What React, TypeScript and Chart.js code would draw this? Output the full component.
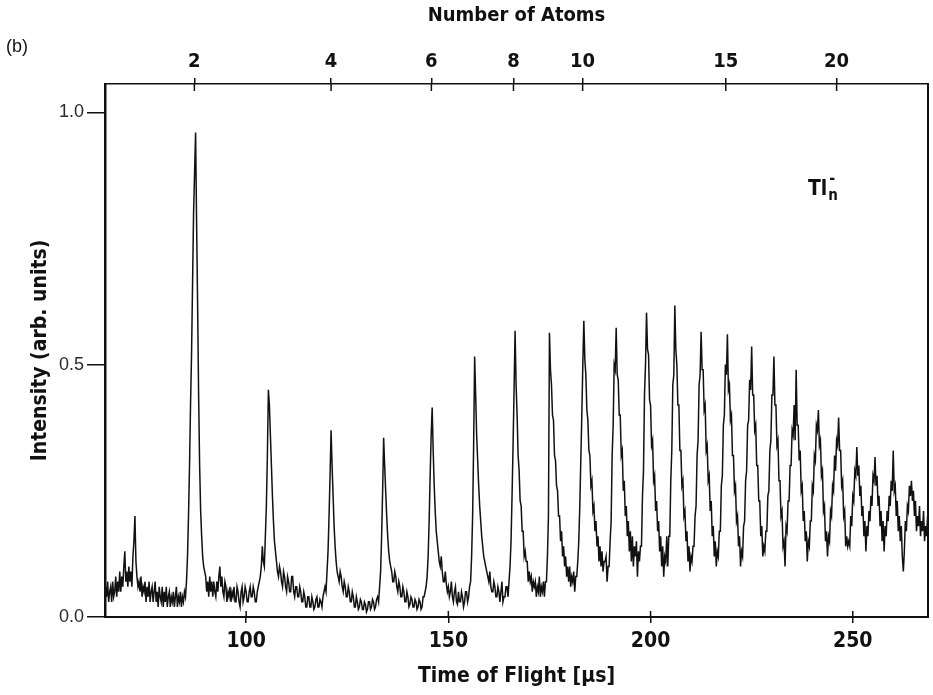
import React, { useEffect, useRef } from "react";
import { Chart, registerables } from "chart.js";

Chart.register(...registerables);

// ---- data: time of flight (µs) sampled every 0.25 µs, intensity (arb. units) ----
const tofStep = 0.25;

const start1 = 65.0; // 65.00 – 89.75
const intensity1 = [
  0.03, 0.06, 0.04, 0.07, 0.03, 0.05, 0.06, 0.03, 0.07, 0.04,
  0.05, 0.08, 0.04, 0.07, 0.05, 0.09, 0.05, 0.08, 0.06, 0.1,
  0.13, 0.07, 0.09, 0.06, 0.1, 0.07, 0.09, 0.06, 0.12, 0.15,
  0.2, 0.11, 0.08, 0.06, 0.07, 0.05, 0.08, 0.04, 0.06, 0.05,
  0.07, 0.03, 0.06, 0.04, 0.07, 0.03, 0.05, 0.06, 0.03, 0.05,
  0.07, 0.03, 0.05, 0.02, 0.06, 0.04, 0.03, 0.06, 0.02, 0.05,
  0.03, 0.06, 0.02, 0.04, 0.05, 0.02, 0.04, 0.03, 0.05, 0.02,
  0.04, 0.06, 0.02, 0.04, 0.03, 0.05, 0.02, 0.04, 0.03, 0.05,
  0.04, 0.07, 0.12, 0.2, 0.3, 0.42, 0.52, 0.66, 0.8, 0.88,
  0.96, 0.78, 0.62, 0.44, 0.3, 0.21, 0.16, 0.12, 0.1, 0.09,
];

const start2 = 90.0; // 90.00 – 114.75
const intensity2 = [
  0.08, 0.05, 0.07, 0.04, 0.08, 0.05, 0.07, 0.04, 0.07, 0.05,
  0.04, 0.07, 0.05, 0.08, 0.1, 0.06, 0.08, 0.05, 0.04, 0.07,
  0.06, 0.03, 0.05, 0.04, 0.06, 0.03, 0.05, 0.04, 0.06, 0.03,
  0.03, 0.06, 0.05, 0.03, 0.02, 0.05, 0.06, 0.03, 0.04, 0.06,
  0.05, 0.03, 0.03, 0.05, 0.06, 0.04, 0.04, 0.06, 0.05, 0.03,
  0.03, 0.05, 0.06, 0.07, 0.08, 0.1, 0.14, 0.11, 0.1, 0.16,
  0.22, 0.32, 0.45, 0.42, 0.36, 0.3, 0.24, 0.19, 0.15, 0.13,
  0.11, 0.09, 0.08, 0.1, 0.09, 0.07, 0.06, 0.09, 0.08, 0.06,
  0.05, 0.08, 0.07, 0.05, 0.05, 0.08, 0.08, 0.05, 0.04, 0.06,
  0.06, 0.04, 0.04, 0.06, 0.05, 0.03, 0.03, 0.05, 0.04, 0.02,
];

const start3 = 115.0; // 115.00 – 139.75
const intensity3 = [
  0.02, 0.04, 0.04, 0.02, 0.02, 0.04, 0.03, 0.015, 0.02, 0.035,
  0.04, 0.02, 0.02, 0.035, 0.03, 0.02, 0.04, 0.05, 0.06, 0.05,
  0.09, 0.13, 0.2, 0.28, 0.37, 0.3, 0.24, 0.18, 0.14, 0.11,
  0.09, 0.08, 0.07, 0.09, 0.08, 0.06, 0.05, 0.07, 0.06, 0.04,
  0.04, 0.06, 0.05, 0.03, 0.03, 0.05, 0.04, 0.02, 0.02, 0.04,
  0.03, 0.015, 0.02, 0.035, 0.03, 0.015, 0.015, 0.03, 0.025, 0.01,
  0.015, 0.03, 0.03, 0.015, 0.02, 0.035, 0.03, 0.015, 0.02, 0.035,
  0.04, 0.03, 0.06, 0.09, 0.16, 0.25, 0.355, 0.3, 0.25, 0.2,
  0.16, 0.13, 0.11, 0.1, 0.09, 0.07, 0.07, 0.09, 0.08, 0.06,
  0.05, 0.07, 0.06, 0.04, 0.04, 0.06, 0.05, 0.03, 0.03, 0.05,
];

const start4 = 140.0; // 140.00 – 164.75
const intensity4 = [
  0.04, 0.02, 0.025, 0.04, 0.035, 0.02, 0.02, 0.035, 0.03, 0.015,
  0.02, 0.035, 0.03, 0.015, 0.02, 0.04, 0.04, 0.05, 0.06, 0.08,
  0.12, 0.19, 0.28, 0.36, 0.415, 0.33, 0.26, 0.21, 0.17, 0.15,
  0.13, 0.11, 0.1, 0.12, 0.09, 0.07, 0.07, 0.09, 0.065, 0.05,
  0.06, 0.04, 0.05, 0.07, 0.04, 0.03, 0.05, 0.06, 0.03, 0.025,
  0.05, 0.03, 0.03, 0.05, 0.04, 0.02, 0.03, 0.05, 0.05, 0.03,
  0.04, 0.06, 0.07, 0.12, 0.2, 0.34, 0.516, 0.44, 0.36, 0.31,
  0.26, 0.22, 0.19, 0.16, 0.14, 0.12, 0.11, 0.1, 0.09, 0.08,
  0.07, 0.09, 0.06, 0.05, 0.05, 0.07, 0.06, 0.04, 0.04, 0.06,
  0.05, 0.03, 0.05, 0.07, 0.03, 0.04, 0.04, 0.06, 0.06, 0.04,
];

const start5 = 165.0; // 165.00 – 189.75
const intensity5 = [
  0.07, 0.1, 0.15, 0.24, 0.34, 0.45, 0.567, 0.46, 0.4, 0.32,
  0.29, 0.23, 0.22, 0.17, 0.17, 0.12, 0.13, 0.11, 0.11, 0.07,
  0.09, 0.07, 0.08, 0.05, 0.07, 0.06, 0.07, 0.04, 0.06, 0.05,
  0.08, 0.04, 0.06, 0.05, 0.07, 0.04, 0.07, 0.07, 0.12, 0.2,
  0.563, 0.49, 0.46, 0.4, 0.39, 0.32, 0.31, 0.26, 0.25, 0.2,
  0.2, 0.15, 0.17, 0.12, 0.14, 0.1, 0.12, 0.08, 0.1, 0.07,
  0.1, 0.06, 0.08, 0.07, 0.09, 0.05, 0.08, 0.08, 0.11, 0.15,
  0.22, 0.31, 0.4, 0.5, 0.587, 0.51, 0.48, 0.41, 0.39, 0.33,
  0.32, 0.26, 0.27, 0.21, 0.22, 0.17, 0.19, 0.14, 0.16, 0.11,
  0.14, 0.1, 0.13, 0.09, 0.11, 0.11, 0.12, 0.07, 0.1, 0.1,
];

const start6 = 190.0; // 190.00 – 214.75
const intensity6 = [
  0.15, 0.19, 0.32, 0.38, 0.5, 0.49, 0.573, 0.48, 0.47, 0.4,
  0.4, 0.32, 0.33, 0.25, 0.27, 0.2, 0.22, 0.16, 0.19, 0.13,
  0.17, 0.11, 0.16, 0.1, 0.14, 0.12, 0.15, 0.08, 0.13, 0.11,
  0.14, 0.14, 0.24, 0.29, 0.44, 0.5, 0.603, 0.53, 0.52, 0.43,
  0.42, 0.34, 0.35, 0.27, 0.28, 0.21, 0.23, 0.17, 0.19, 0.13,
  0.16, 0.1, 0.14, 0.08, 0.12, 0.11, 0.16, 0.1, 0.16, 0.16,
  0.27, 0.33, 0.46, 0.48, 0.617, 0.53, 0.5, 0.42, 0.42, 0.33,
  0.33, 0.26, 0.27, 0.2, 0.21, 0.15, 0.17, 0.11, 0.14, 0.09,
  0.12, 0.11, 0.14, 0.14, 0.2, 0.22, 0.32, 0.35, 0.46, 0.48,
  0.565, 0.49, 0.49, 0.41, 0.42, 0.33, 0.34, 0.27, 0.28, 0.21,
];

const start7 = 215.0; // 215.00 – 239.75
const intensity7 = [
  0.23, 0.16, 0.18, 0.12, 0.15, 0.1, 0.13, 0.12, 0.17, 0.17,
  0.26, 0.28, 0.38, 0.4, 0.5, 0.48, 0.56, 0.45, 0.46, 0.39,
  0.4, 0.32, 0.32, 0.25, 0.26, 0.19, 0.2, 0.14, 0.16, 0.1,
  0.13, 0.12, 0.18, 0.19, 0.27, 0.29, 0.38, 0.39, 0.47, 0.45,
  0.536, 0.44, 0.44, 0.37, 0.38, 0.3, 0.3, 0.23, 0.23, 0.16,
  0.18, 0.12, 0.14, 0.13, 0.17, 0.17, 0.24, 0.25, 0.33, 0.35,
  0.44, 0.44, 0.516, 0.42, 0.42, 0.34, 0.35, 0.27, 0.27, 0.2,
  0.21, 0.14, 0.15, 0.1, 0.18, 0.17, 0.23, 0.23, 0.3, 0.3,
  0.37, 0.36, 0.42, 0.35, 0.49, 0.38, 0.38, 0.31, 0.33, 0.25,
  0.26, 0.19, 0.21, 0.15, 0.17, 0.11, 0.15, 0.14, 0.19, 0.19,
];

const start8 = 240.0; // 240.00 – 268.50
const intensity8 = [
  0.26, 0.25, 0.32, 0.31, 0.38, 0.37, 0.41, 0.34, 0.35, 0.28,
  0.29, 0.21, 0.22, 0.15, 0.17, 0.12, 0.16, 0.15, 0.21, 0.2,
  0.26, 0.25, 0.32, 0.29, 0.35, 0.34, 0.395, 0.33, 0.33, 0.26,
  0.27, 0.2, 0.21, 0.14, 0.16, 0.14, 0.15, 0.14, 0.2, 0.18,
  0.24, 0.23, 0.29, 0.28, 0.337, 0.28, 0.3, 0.24, 0.26, 0.2,
  0.22, 0.16, 0.19, 0.13, 0.18, 0.16, 0.21, 0.19, 0.24, 0.22,
  0.28, 0.27, 0.317, 0.26, 0.28, 0.22, 0.24, 0.18, 0.21, 0.15,
  0.19, 0.13, 0.18, 0.16, 0.21, 0.19, 0.24, 0.22, 0.27, 0.25,
  0.33, 0.25, 0.26, 0.2, 0.23, 0.17, 0.2, 0.15, 0.18, 0.12,
  0.09, 0.13, 0.19, 0.17, 0.22, 0.21, 0.26, 0.24, 0.27, 0.23,
  0.25, 0.2, 0.23, 0.17, 0.2, 0.18, 0.22, 0.16, 0.19, 0.17,
  0.21, 0.15, 0.18, 0.16, 0.2,
];

const tofMin = 65.1;
const tofMax = 268.6;
const intensityMin = 0;
const intensityMax = 1.056;

const tofTicks = [100, 150, 200, 250];
const intensityTicks = [0, 0.5, 1.0];

// top axis: cluster size n and the flight time at which it arrives
const atomNumbers = [2, 4, 6, 8, 10, 15, 20];
const atomTof = [87.2, 121.0, 145.8, 166.1, 183.2, 218.6, 246.0];

// species label position in data units
const speciesLabelTof = 238.9;
const speciesLabelIntensity = 0.837;

const INK = "#111111";
const NARROW = "'Liberation Sans Narrow', 'DejaVu Sans Condensed', 'Roboto Condensed', 'Liberation Sans', Arial, sans-serif";
const PLAIN = "'Liberation Sans', Arial, sans-serif";

const segments: [number, number[]][] = [
  [start1, intensity1],
  [start2, intensity2],
  [start3, intensity3],
  [start4, intensity4],
  [start5, intensity5],
  [start6, intensity6],
  [start7, intensity7],
  [start8, intensity8],
];

const framePlugin = {
  id: "frame",
  afterDraw(chart: any) {
    const { ctx, chartArea, scales } = chart;
    const { right, top, bottom } = chartArea;
    ctx.save();
    ctx.strokeStyle = INK;
    ctx.lineWidth = 2;
    ctx.beginPath();
    ctx.moveTo(right, top - 1);
    ctx.lineTo(right, bottom + 1);
    ctx.stroke();

    // inner halves of the crossing ticks
    ctx.lineWidth = 1.5;
    ctx.beginPath();
    for (const t of scales.x.ticks) {
      const px = scales.x.getPixelForValue(t.value);
      ctx.moveTo(px, bottom);
      ctx.lineTo(px, bottom - 6);
    }
    for (const t of scales.xTop.ticks) {
      const px = scales.xTop.getPixelForValue(t.value);
      ctx.moveTo(px, top);
      ctx.lineTo(px, top + 7);
    }
    ctx.stroke();

    // species label Tl_n^-
    const lx = scales.x.getPixelForValue(speciesLabelTof);
    const ly = scales.y.getPixelForValue(speciesLabelIntensity);
    ctx.fillStyle = INK;
    ctx.textBaseline = "alphabetic";
    ctx.textAlign = "left";
    ctx.font = `bold 21px ${NARROW}`;
    ctx.fillText("Tl", lx, ly);
    const w = ctx.measureText("Tl").width;
    ctx.font = `bold 15px ${NARROW}`;
    ctx.fillText("n", lx + w + 1, ly + 5);
    ctx.font = `bold 16px ${NARROW}`;
    ctx.fillText("-", lx + w + 2, ly - 12);

    // panel letter
    ctx.font = `18px ${PLAIN}`;
    ctx.fillText("(b)", 6, 52);
    ctx.restore();
  },
};

export default function App() {
  const canvasRef = useRef<HTMLCanvasElement | null>(null);

  useEffect(() => {
    const canvas = canvasRef.current;
    if (!canvas) return;
    const points = segments.flatMap(([start, values]) =>
      values.map((v, i) => ({ x: start + i * tofStep, y: v }))
    );

    const chart = new Chart(canvas, {
      type: "line",
      data: {
        datasets: [
          {
            data: points,
            borderColor: INK,
            borderWidth: 1.5,
            pointRadius: 0,
            tension: 0,
            fill: false,
          },
        ],
      },
      options: {
        animation: false,
        responsive: false,
        devicePixelRatio: 1,
        layout: { padding: { left: 0, right: 5, top: 0, bottom: 0 } },
        plugins: {
          legend: { display: false },
          tooltip: { enabled: false },
        },
        scales: {
          x: {
            type: "linear",
            position: "bottom",
            min: tofMin,
            max: tofMax,
            afterBuildTicks: (s: any) => {
              s.ticks = tofTicks.map((v) => ({ value: v }));
            },
            afterFit: (s: any) => {
              s.height = 78;
            },
            ticks: {
              autoSkip: false,
              maxRotation: 0,
              padding: 6,
              color: INK,
              font: { family: NARROW, size: 21, weight: "bold" },
              callback: (v: any) => String(v),
            },
            grid: { drawOnChartArea: false, tickLength: 6, color: INK, lineWidth: 1.5 },
            border: { color: INK, width: 2 },
            title: {
              display: true,
              text: "Time of Flight [µs]",
              color: INK,
              font: { family: NARROW, size: 21, weight: "bold" },
              padding: { top: 0, bottom: 6 },
            },
          },
          xTop: {
            type: "linear",
            position: "top",
            min: tofMin,
            max: tofMax,
            afterBuildTicks: (s: any) => {
              s.ticks = atomTof.map((v) => ({ value: v }));
            },
            afterFit: (s: any) => {
              s.height = 84;
            },
            ticks: {
              autoSkip: false,
              maxRotation: 0,
              padding: 4,
              color: INK,
              font: { family: NARROW, size: 20, weight: "bold" },
              callback: (_v: any, i: number) => String(atomNumbers[i]),
            },
            grid: { drawOnChartArea: false, tickLength: 6, color: INK, lineWidth: 1.5 },
            border: { color: INK, width: 1.5 },
            title: {
              display: true,
              text: "Number of Atoms",
              color: INK,
              font: { family: NARROW, size: 20, weight: "bold" },
              padding: { top: 4, bottom: 0 },
            },
          },
          y: {
            type: "linear",
            position: "left",
            min: intensityMin,
            max: intensityMax,
            afterBuildTicks: (s: any) => {
              s.ticks = intensityTicks.map((v) => ({ value: v }));
            },
            afterFit: (s: any) => {
              s.width = 105;
            },
            ticks: {
              padding: 3,
              color: "#2a2a2a",
              font: { family: PLAIN, size: 18, weight: "normal" },
              callback: (v: any) => Number(v).toFixed(1),
            },
            grid: { drawOnChartArea: false, tickLength: 18, color: INK, lineWidth: 1.5 },
            border: { color: INK, width: 2.5 },
            title: {
              display: true,
              text: "Intensity (arb. units)",
              color: INK,
              font: { family: NARROW, size: 21, weight: "bold" },
              padding: { top: 28, bottom: 0 },
            },
          },
        },
      },
      plugins: [framePlugin],
    });

    return () => chart.destroy();
  }, []);

  return (
    <div style={{ position: "absolute", left: 0, top: 0, width: 933, height: 695, background: "#fff" }}>
      <canvas ref={canvasRef} width={933} height={695} />
    </div>
  );
}
